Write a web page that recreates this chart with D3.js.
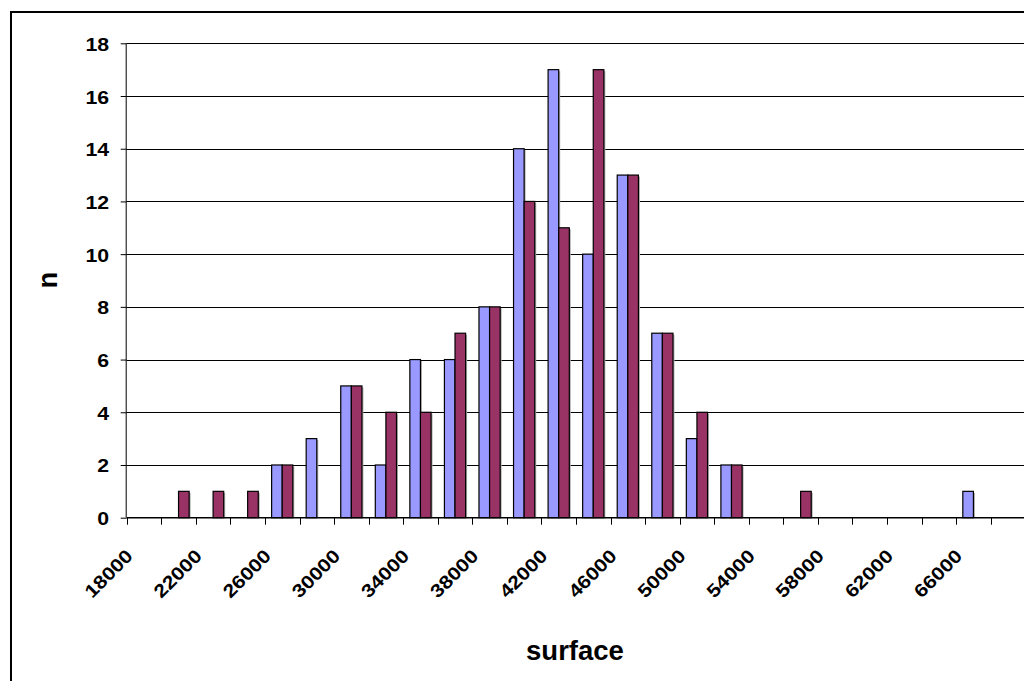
<!DOCTYPE html>
<html>
<head>
<meta charset="utf-8">
<script src="https://cdn.jsdelivr.net/npm/d3@7"></script>
<style>
  html, body { margin: 0; padding: 0; background: #fff; }
  svg { display: block; font-family: "Liberation Sans", Arial, sans-serif; }
</style>
</head>
<body>
<svg id="chart" width="1024" height="681"></svg>
<script>
// ---- data ----
const categories = [18000, 20000, 22000, 24000, 26000, 28000, 30000, 32000, 34000, 36000,
                    38000, 40000, 42000, 44000, 46000, 48000, 50000, 52000, 54000, 56000,
                    58000, 60000, 62000, 64000, 66000];
const seriesBlue   = [0, 0, 0, 0, 2, 3, 5, 2, 6, 6, 8, 14, 17, 10, 13, 7, 3, 2, 0, 0, 0, 0, 0, 0, 1];
const seriesMaroon = [0, 1, 1, 1, 2, 0, 5, 4, 4, 7, 8, 12, 11, 17, 13, 7, 4, 2, 0, 1, 0, 0, 0, 0, 0];
const yTicks = [0, 2, 4, 6, 8, 10, 12, 14, 16, 18];
const seriesNames = ["a", "b"];
const seriesColors = ["#9999FF", "#993366"];
const xTitle = "surface";
const yTitle = "n";

// ---- layout ----
const W = 1024, H = 681;
const pLeft = 126.7, pRight = 990.7, pTop = 43.3, pBottom = 517.7;
const tickFont = 18.5, tickStretch = 1.15;

const svg = d3.select("#chart");

// outer border (chart area, extends past the crop)
svg.append("rect")
  .attr("x", 11).attr("y", 12)
  .attr("width", 1100).attr("height", 1000)
  .attr("fill", "#fff").attr("stroke", "#000").attr("stroke-width", 2);

const x = d3.scaleBand().domain(categories).range([pLeft, pRight]).padding(0);
const xSub = d3.scaleBand().domain(seriesNames).range([0, x.bandwidth()]).paddingInner(0).paddingOuter(0.63);
const y = d3.scaleLinear().domain([0, 18]).range([pBottom, pTop]);

// gridlines
svg.append("g")
  .selectAll("line")
  .data(yTicks.filter(d => d > 0))
  .join("line")
  .attr("x1", pLeft).attr("x2", W)
  .attr("y1", d => Math.round(y(d)) + 0.5).attr("y2", d => Math.round(y(d)) + 0.5)
  .attr("stroke", "#000").attr("stroke-width", 1);

// bars
const rows = categories.map((c, i) => ({ c, vals: [seriesBlue[i], seriesMaroon[i]] }));
const g = svg.append("g");
rows.forEach(r => {
  r.vals.forEach((v, k) => {
    if (v <= 0) return;
    const bx = x(r.c) + xSub(seriesNames[k]);
    const bw = xSub.bandwidth();
    g.append("rect")
      .attr("x", bx + 1.5).attr("y", y(v) + 1.5)
      .attr("width", bw).attr("height", y(0) - y(v) - 1.5)
      .attr("fill", "#b0b0b0");
  });
});
rows.forEach(r => {
  r.vals.forEach((v, k) => {
    if (v <= 0) return;
    const bx = x(r.c) + xSub(seriesNames[k]);
    const bw = xSub.bandwidth();
    g.append("rect")
      .attr("x", bx).attr("y", y(v))
      .attr("width", bw).attr("height", y(0) - y(v))
      .attr("fill", seriesColors[k])
      .attr("stroke", "#000").attr("stroke-width", 1.2);
  });
});

// y axis
const yAxis = d3.axisLeft(y).tickValues(yTicks).tickSize(6).tickFormat("");
const ya = svg.append("g").attr("transform", `translate(${pLeft},0)`).call(yAxis);
ya.select(".domain").attr("stroke", "#000").attr("d", `M-0.5,${pTop}V${pBottom}`);
ya.selectAll(".tick line").attr("stroke", "#000");
ya.selectAll(".tick text").remove();
svg.append("g").selectAll("text").data(yTicks).join("text")
  .attr("transform", d => `translate(${pLeft - 17.5},${y(d) + 7.5}) scale(${tickStretch},1)`)
  .attr("text-anchor", "end")
  .attr("font-size", tickFont).attr("font-weight", "bold").attr("fill", "#000")
  .text(d => d3.format("d")(d));

// x axis line + ticks at category boundaries
const boundaries = categories.map(c => x(c)).concat([pRight]);
svg.append("line")
  .attr("x1", pLeft).attr("x2", W)
  .attr("y1", pBottom).attr("y2", pBottom)
  .attr("stroke", "#000").attr("stroke-width", 1.5);
svg.append("g").selectAll("line").data(boundaries).join("line")
  .attr("x1", d => Math.round(d) + 0.5).attr("x2", d => Math.round(d) + 0.5)
  .attr("y1", pBottom).attr("y2", pBottom + 7)
  .attr("stroke", "#000");

// x labels (every other)
svg.append("g").selectAll("text")
  .data(categories.filter((c, i) => i % 2 === 0))
  .join("text")
  .attr("transform", d => `translate(${x(d) + x.bandwidth() / 2 - 10},${pBottom + 39.5}) rotate(-45) scale(${tickStretch},1)`)
  .attr("text-anchor", "end")
  .attr("font-size", tickFont).attr("font-weight", "bold").attr("fill", "#000")
  .text(d => d);

// axis titles
svg.append("text")
  .attr("x", 575).attr("y", 660)
  .attr("text-anchor", "middle")
  .attr("font-size", 27.5).attr("font-weight", "bold")
  .text(xTitle);
svg.append("text")
  .attr("transform", "translate(56.7,280) rotate(-90)")
  .attr("text-anchor", "middle")
  .attr("font-size", 27.5).attr("font-weight", "bold")
  .text(yTitle);
</script>
</body>
</html>
